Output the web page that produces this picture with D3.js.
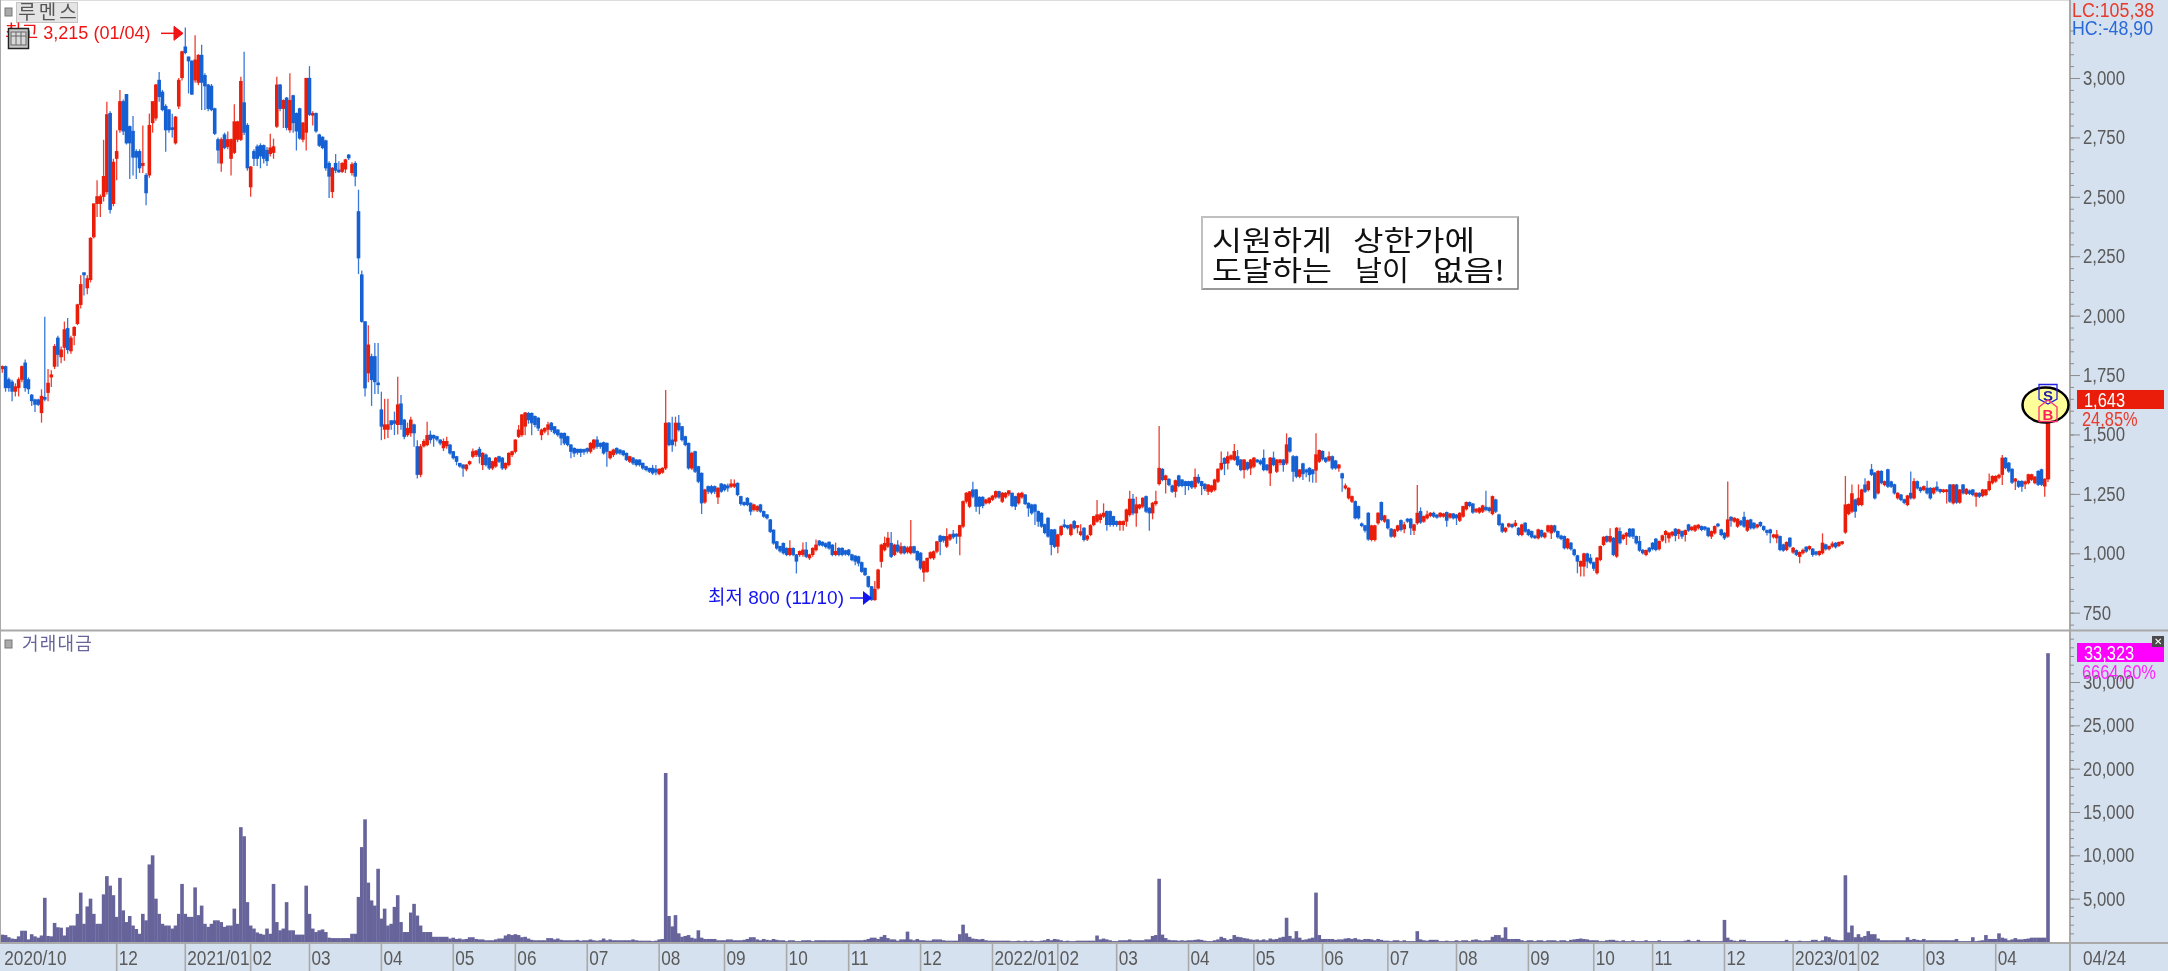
<!DOCTYPE html>
<html><head><meta charset="utf-8">
<script src="https://cdnjs.cloudflare.com/ajax/libs/d3/7.8.5/d3.min.js"></script>
<style>html,body{margin:0;padding:0;background:#fff;overflow:hidden}svg{display:block;filter:blur(.35px)}text{font-family:"Liberation Sans","Noto Sans CJK KR",sans-serif}</style>
</head><body><svg id="c" width="2168" height="971"></svg>
<script>
const opens=[1775,1785,1730,1720,1680,1695,1730,1800,1730,1665,
1645,1645,1590,1655,1675,1740,1785,1905,1825,1865,
1945,1850,1915,1965,2045,2180,2115,2150,2330,2470,
2470,2500,2520,2850,2470,2660,2780,2900,2930,2795,
2775,2690,2690,2630,2590,2590,2810,2830,2990,2940,
2880,2865,2790,2725,2880,3000,3130,3088,3070,2990,
2980,3095,3010,2970,2965,2870,2740,2640,2760,2710,
2660,2685,2740,2740,2895,2800,2540,2690,2710,2715,
2715,2695,2680,2685,2795,2970,2870,2915,2780,2925,
2850,2870,2740,2770,2998,2845,2850,2760,2750,2735,
2640,2520,2640,2612,2605,2615,2675,2600,2640,
2437,2171,1974,1757,1827,1827,1716,1603,1520,1520,1557,1557,1540,1628,1560,1497,1505,1540,1448,1330,1450,1455,1497,1495,1490,1476,1442,1450,1455,1427,1406,1378,1371,1353,1375,1406,1413,1437,1371,1413,1400,1357,1365,1406,1400,1357,1371,1413,1427,1490,1497,1533,1588,1588,1575,1568,1497,1512,1520,1547,1532,1518,1504,1504,1490,1455,1441,1437,1437,1436,1440,1427,1441,1476,1462,1465,1462,1400,1413,1441,1434,1430,1420,1385,1400,1392,1392,1378,1364,1357,1357,1353,1333,1339,1357,1547,1476,1470,1547,1532,1490,1462,1357,1427,1364,
1336,1214,1280,1280,1280,1235,1291,1287,1283,1280,1280,1294,1238,1213,1231,1210,1182,1180,1203,1175,1161,1140,1097,1048,1028,1041,1020,993,1020,993,993,993,1013,979,993,1013,1051,1046,1040,1046,1034,993,1020,1020,1010,1013,993,988,985,960,936,901,859,803,852,964,1013,1028,1041,993,1034,1000,1027,1004,1000,1027,1007,1000,919,922,979,979,1007,1072,1070,1028,1058,1080,1080,1070,1112,1217,1196,1266,1266,1235,1235,1210,1212,1225,1235,1259,1217,1235,1248,1252,1238,1210,1235,1245,1210,1203,1203,1175,1168,1120,1147,1098,1098,1028,1077,1119,1116,1077,1133,1112,1077,1105,1058,1077,1119,1133,
1140,1154,1175,1175,1154,1133,1119,1119,1133,1161,1227,1168,1189,1196,1238,1189,1168,1207,1291,1353,1308,1311,1283,1259,1325,1308,1301,1301,1301,1278,1319,1301,1290,1259,1259,1266,1301,1353,1399,1378,1395,1393,1406,1392,1350,1381,1357,1364,1392,1388,1399,1371,1336,1400,1343,1380,1392,1378,1484,1406,1406,1322,1376,1350,1357,1350,1348,1385,1428,1400,1390,1406,1388,1357,1334,1273,1231,1217,1217,1196,1123,1115,1168,1056,1056,1126,1213,1133,1140,1101,1070,1095,1137,1101,1143,1143,1095,1126,1175,1133,1147,1157,1168,1160,1154,1154,1171,1150,1165,1161,1137,1154,1185,1213,1207,1175,1171,1175,1193,1190,1165,1224,1161,1123,1091,1112,1120,1115,1105,1077,1126,1098,1091,1072,1063,1095,1067,1091,
1084,1115,1091,1072,1070,1021,1042,1014,989,944,944,997,979,960,916,972,1035,1070,1049,1063,986,1091,1060,1070,1101,1101,1070,1049,1012,993,1021,1042,1059,1017,1053,1077,1063,1075,1101,1081,1091,1077,1119,1098,1095,1105,1112,1110,1105,1070,1084,1122,1098,1084,1070,1151,1133,1112,1135,1151,1095,1140,1126,1109,1129,1112,1095,1098,1067,1063,1070,1035,1014,1063,1003,1011,985,1000,1025,1017,1017,1005,993,1000,1035,1017,1028,1042,1031,1040,1087,1165,1175,1224,1203,1203,1287,1266,1351,1337,1252,1344,1287,1351,1300,1288,1231,1245,1225,1203,1252,1231,1301,1275,1266,1273,1273,1252,1278,1268,1259,1259,1287,1210,1287,1213,1287,1250,1262,1266,1238,1252,1241,1245,1266,1295,1302,1318,1330,1400,1379,1353,1302,1302,1302,1290,1295,1309,1295,1344,1351,1281,1311];
const closes=[1785,1695,1695,1680,1700,1730,1785,1695,1690,1640,
1625,1625,1660,1650,1715,1750,1870,1835,1855,1940,
1855,1905,1950,2045,2130,2170,2155,2325,2470,2500,
2500,2585,2845,2445,2645,2690,2900,2775,2725,2725,
2665,2665,2620,2640,2515,2800,2900,2970,2920,2865,
2780,2780,2785,2835,2990,3110,3105,3070,2930,3075,
3095,2980,2965,2870,2865,2765,2695,2740,2705,2740,
2740,2815,2815,2985,2770,2620,2625,2660,2660,2670,
2660,2650,2705,2710,2970,2870,2905,2790,2905,2810,
2775,2745,2810,2998,2845,2850,2775,2715,2705,2620,
2585,2620,2610,2605,2640,2655,2662,2635,2585,
2241,1974,1694,1876,1729,1720,1712,1533,1540,1540,1540,1545,1624,1540,1490,1525,1560,1505,1330,1448,1470,1495,1476,1483,1478,1462,1470,1470,1420,1400,1385,1365,1357,1371,1385,1427,1430,1406,1420,1371,1357,1385,1400,1385,1357,1378,1420,1427,1476,1518,1582,1590,1560,1547,1540,1525,1518,1525,1540,1518,1505,1497,1483,1462,1455,1427,1420,1423,1423,1425,1428,1462,1476,1448,1448,1420,1427,1427,1434,1420,1420,1413,1392,1406,1378,1371,1371,1357,1350,1343,1336,1340,1353,1357,1547,1455,1455,1547,1518,1476,1455,1357,1420,1343,1301,
1210,1266,1259,1255,1259,1273,1259,1266,1273,1291,1291,1245,1207,1203,1203,1175,1203,1196,1175,1154,1147,1090,1041,1020,1008,1000,993,1020,993,965,1007,1013,985,993,1020,1034,1034,1032,1026,1020,993,1007,993,993,995,993,971,965,957,922,908,859,803,848,929,1034,1041,1063,985,1034,1007,1027,1000,1022,1027,1002,971,936,964,978,1002,1006,1048,1048,1053,1070,1077,1067,1070,1116,1217,1252,1258,1238,1196,1196,1199,1224,1231,1240,1259,1235,1252,1252,1262,1199,1196,1250,1252,1207,1189,1168,1175,1133,1112,1085,1070,1035,1027,1077,1112,1112,1105,1119,1105,1116,1090,1056,1072,1116,1154,1161,
1161,1168,1119,1119,1119,1119,1133,1133,1182,1227,1168,1203,1203,1231,1175,1168,1210,1217,1357,1308,1325,1287,1259,1305,1283,1283,1283,1283,1277,1319,1297,1283,1270,1287,1283,1308,1353,1378,1376,1406,1410,1428,1371,1350,1392,1353,1392,1400,1385,1375,1350,1350,1400,1371,1392,1392,1371,1456,1428,1343,1322,1350,1333,1340,1329,1333,1414,1432,1395,1385,1406,1357,1357,1371,1315,1283,1273,1238,1147,1147,1115,1095,1058,1115,1115,1168,1140,1157,1105,1070,1098,1115,1098,1119,1133,1105,1119,1168,1129,1154,1161,1168,1154,1150,1168,1165,1137,1165,1147,1147,1168,1196,1213,1199,1171,1185,1189,1199,1182,1178,1238,1175,1119,1091,1105,1123,1110,1126,1077,1119,1091,1077,1067,1066,1098,1070,1084,1115,
1115,1091,1067,1060,1021,1059,1017,993,965,965,997,965,958,935,979,1028,1067,1049,1070,993,1105,1042,1075,1084,1070,1070,1042,1011,1000,1011,1007,1017,1014,1049,1073,1091,1084,1088,1073,1098,1070,1095,1095,1109,1115,1118,1098,1100,1073,1091,1112,1115,1077,1063,1140,1137,1147,1143,1120,1112,1137,1105,1105,1119,1115,1098,1086,1084,1077,1077,1014,1011,1045,1028,1021,993,1003,1012,1007,1028,993,995,1007,1042,1017,1028,1039,1025,1045,1048,1203,1205,1250,1175,1231,1266,1259,1301,1330,1231,1344,1295,1301,1280,1280,1252,1252,1224,1212,1241,1231,1301,1273,1262,1280,1252,1231,1273,1264,1258,1266,1266,1217,1287,1213,1266,1252,1269,1250,1245,1252,1238,1266,1266,1301,1323,1323,1328,1400,1358,1344,1297,1312,1280,1280,1300,1330,1330,1320,1288,1288,1311,1643];
const highs=[1790,1790,1740,1730,1715,1740,1790,1815,1740,1670,
1650,1650,1690,1995,1775,1770,1880,1915,1870,1975,
1990,1915,1955,2050,2170,2180,2170,2330,2470,2570,
2510,2740,2900,2860,2660,2780,2950,2910,2930,2800,
2840,2700,2700,2800,2600,2850,2900,2975,3025,2950,
2890,2870,2850,2840,3000,3115,3213,3090,3075,3180,
3100,3140,3020,2975,2975,2875,2750,2750,2770,2775,
2745,2890,2820,3005,3110,2810,2630,2700,2720,2725,
2720,2710,2765,2745,3005,2975,2910,2920,3020,2930,
2855,2875,2815,3000,3050,2860,2855,2765,2755,2740,
2650,2625,2680,2650,2645,2660,2680,2645,2650,
2530,2190,1975,1960,1840,1885,1885,1680,1650,1650,1560,1596,1743,1666,1565,1550,1575,1545,1476,1460,1480,1553,1516,1500,1495,1480,1483,1490,1460,1430,1410,1380,1375,1375,1390,1441,1435,1448,1425,1420,1405,1390,1405,1410,1405,1382,1425,1432,1480,1540,1585,1595,1595,1592,1580,1572,1525,1530,1553,1552,1535,1522,1508,1508,1495,1460,1445,1440,1440,1440,1445,1468,1480,1492,1466,1470,1466,1432,1440,1445,1438,1434,1424,1410,1405,1396,1395,1382,1368,1360,1372,1372,1358,1362,1687,1552,1575,1575,1582,1536,1495,1466,1427,1432,1368,
1340,1272,1285,1288,1285,1278,1296,1292,1294,1312,1310,1298,1242,1218,1236,1214,1208,1202,1208,1180,1165,1144,1100,1052,1032,1045,1025,1055,1024,997,1012,1045,1048,998,1025,1058,1056,1050,1045,1050,1038,1045,1025,1025,1015,1018,998,992,990,965,940,905,862,883,935,1040,1070,1090,1090,1040,1055,1045,1032,1030,1140,1032,1012,1005,970,982,1008,1012,1052,1078,1074,1105,1082,1098,1084,1120,1222,1258,1262,1301,1270,1240,1240,1230,1236,1246,1264,1263,1258,1258,1266,1256,1242,1256,1259,1250,1214,1208,1208,1180,1172,1125,1152,1102,1103,1082,1118,1143,1120,1124,1140,1118,1122,1110,1078,1122,1158,1224,
1168,1210,1180,1180,1158,1138,1138,1138,1188,1263,1250,1238,1208,1236,1243,1194,1216,1263,1536,1358,1330,1316,1288,1310,1330,1312,1305,1305,1306,1357,1333,1305,1295,1292,1288,1314,1358,1428,1404,1428,1416,1460,1435,1397,1397,1386,1397,1405,1397,1395,1437,1376,1405,1428,1397,1397,1397,1505,1489,1414,1411,1355,1381,1356,1362,1355,1505,1437,1433,1405,1428,1411,1393,1376,1339,1294,1278,1243,1222,1201,1130,1120,1173,1120,1120,1173,1218,1162,1145,1106,1103,1120,1142,1133,1148,1148,1124,1287,1193,1159,1179,1173,1175,1165,1173,1170,1176,1170,1170,1165,1173,1200,1218,1218,1212,1190,1194,1204,1263,1196,1243,1229,1166,1128,1110,1128,1125,1140,1110,1124,1131,1103,1096,1078,1103,1100,1089,1120,
1120,1120,1096,1078,1075,1064,1047,1019,994,970,1002,1002,997,965,984,1033,1072,1075,1105,1068,1110,1109,1082,1089,1106,1106,1075,1073,1018,1016,1026,1047,1064,1054,1078,1098,1089,1094,1106,1103,1096,1100,1124,1114,1120,1122,1117,1115,1110,1096,1117,1127,1103,1089,1302,1156,1152,1148,1140,1175,1142,1145,1131,1124,1134,1117,1100,1103,1082,1098,1075,1040,1050,1068,1026,1016,1008,1020,1030,1033,1022,1010,1012,1084,1040,1033,1050,1047,1050,1052,1325,1210,1289,1229,1290,1272,1316,1306,1376,1342,1349,1349,1306,1356,1305,1293,1257,1250,1230,1246,1344,1316,1306,1280,1285,1305,1278,1278,1302,1272,1271,1271,1292,1292,1292,1271,1292,1274,1268,1271,1257,1257,1271,1271,1336,1328,1328,1335,1414,1405,1384,1358,1317,1307,1307,1306,1335,1335,1325,1349,1356,1316,1643];
const lows=[1760,1680,1680,1640,1660,1660,1720,1680,1670,1620,
1595,1620,1550,1640,1640,1700,1775,1785,1800,1810,
1840,1840,1875,1960,2030,2085,2090,2140,2325,2415,
2415,2480,2510,2430,2460,2570,2770,2760,2720,2575,
2590,2575,2600,2600,2465,2580,2770,2820,2900,2860,
2690,2770,2750,2720,2870,2990,3100,2935,2930,2980,
2970,2865,2865,2860,2860,2760,2640,2605,2700,2700,
2590,2680,2730,2735,2760,2610,2500,2630,2630,2620,
2640,2630,2670,2660,2790,2860,2790,2780,2770,2770,
2695,2740,2730,2695,2840,2800,2770,2710,2700,2610,
2495,2495,2600,2600,2600,2600,2655,2590,2545,
2175,1970,1660,1720,1620,1670,1670,1476,1480,1485,1520,1497,1500,1520,1480,1490,1490,1448,1315,1320,1445,1450,1462,1448,1470,1455,1430,1440,1415,1395,1370,1360,1322,1345,1370,1400,1405,1378,1350,1365,1350,1350,1360,1380,1350,1350,1365,1405,1420,1485,1490,1497,1545,1497,1530,1515,1476,1505,1497,1510,1500,1490,1455,1455,1450,1400,1405,1415,1405,1415,1420,1420,1435,1440,1440,1415,1364,1395,1405,1415,1415,1408,1388,1380,1372,1365,1365,1352,1345,1338,1330,1328,1328,1335,1350,1450,1427,1450,1512,1470,1450,1352,1350,1338,1295,
1165,1208,1250,1248,1250,1207,1255,1260,1259,1275,1275,1240,1200,1198,1198,1160,1176,1174,1170,1150,1142,1085,1036,1015,1003,995,988,988,988,915,985,985,980,972,985,1008,1030,1028,1020,1015,988,988,988,988,990,988,966,950,945,918,904,855,800,800,848,940,1008,1022,980,988,1002,995,995,998,995,998,966,930,880,918,975,972,1000,992,1045,1022,1052,1060,1040,992,1105,1210,1190,1232,1175,1164,1190,1205,1206,1220,1230,1230,1212,1230,1240,1194,1182,1205,1230,1203,1154,1162,1119,1112,1107,1080,1065,992,1022,1000,1072,1106,1100,1072,1100,1084,1072,1050,1052,1072,1114,1128,
1126,1148,1095,1112,1112,1112,1095,1095,1112,1155,1160,1112,1184,1190,1170,1095,1143,1200,1285,1303,1252,1282,1254,1235,1278,1278,1245,1265,1270,1272,1292,1245,1262,1245,1254,1260,1296,1348,1329,1353,1390,1388,1366,1345,1315,1348,1329,1358,1380,1370,1345,1345,1283,1366,1338,1370,1343,1372,1423,1301,1316,1316,1308,1320,1301,1297,1297,1380,1390,1380,1385,1352,1352,1343,1259,1268,1226,1212,1142,1142,1110,1088,1053,1050,1050,1120,1135,1128,1100,1065,1065,1090,1092,1084,1128,1077,1077,1120,1124,1128,1142,1152,1149,1145,1150,1150,1112,1145,1142,1119,1132,1150,1180,1194,1166,1170,1166,1170,1177,1172,1160,1170,1114,1085,1086,1107,1105,1110,1072,1072,1086,1072,1062,1060,1058,1065,1062,1086,
1060,1086,1062,1055,1016,1016,1012,988,916,902,902,937,953,925,911,967,1030,1044,1044,988,981,1037,1055,1035,1065,1060,1037,1006,995,988,1002,1012,1009,1012,1048,1042,1045,1070,1050,1060,1060,1050,1090,1093,1090,1100,1093,1095,1068,1060,1079,1110,1072,1056,1065,1112,1128,1107,1115,1107,1090,1100,1100,1104,1110,1093,1075,1042,1062,1042,1009,1006,1009,1023,998,988,958,995,1002,1012,985,990,988,995,1012,1012,1023,1020,1026,1035,1082,1160,1170,1150,1198,1198,1254,1260,1325,1226,1247,1290,1282,1275,1275,1247,1226,1219,1206,1198,1226,1226,1268,1255,1261,1247,1226,1247,1259,1252,1254,1210,1212,1205,1208,1208,1247,1245,1245,1240,1196,1233,1236,1240,1261,1290,1297,1312,1287,1353,1339,1292,1266,1275,1259,1270,1290,1304,1290,1283,1283,1238,1300];
const turnover=[850,800,550,400,350,650,1300,1300,300,900,
650,500,750,5100,700,650,2200,1700,1650,750,
1700,1900,1900,3250,5700,2100,4100,5000,3250,2100,
2100,5500,7600,6500,5400,2900,7400,3650,2300,3000,
1900,1500,950,3250,2500,8950,10000,5000,3250,2100,
1900,1900,1550,1900,3250,6700,3250,2900,2900,6300,
3100,4200,2100,1750,2100,2500,2500,2300,1750,1900,
1900,3850,2100,13250,12200,4600,1900,1550,1100,950,
850,1550,950,6700,2300,1350,1550,4600,1350,1350,
850,850,850,6500,3250,1550,1150,1350,1450,1150,
500,450,450,450,450,450,450,950,950,5200,
10950,14150,6850,4800,4200,8450,2700,3850,1900,2100,
4050,5400,2300,1150,1150,3400,4400,3050,1900,1150,
1150,1150,600,600,600,600,600,400,500,350,
400,300,350,550,550,350,300,300,200,200,
200,300,400,400,750,900,800,900,800,550,
600,400,250,200,200,200,200,450,450,300,
400,250,200,200,200,200,250,150,200,200,
300,200,150,200,400,200,300,200,200,200,
200,200,200,300,200,150,150,150,150,100,
150,300,350,19500,3000,1800,3100,1000,600,700,
800,500,400,1350,500,350,350,350,350,200,
200,200,300,300,200,200,200,250,350,550,
550,300,200,350,250,200,350,250,200,200,
100,200,200,100,100,200,200,200,100,200,
200,200,200,200,200,200,200,200,200,200,
200,200,200,200,250,350,500,500,350,600,
800,450,300,300,150,300,300,1200,300,200,
350,200,200,150,150,300,300,300,200,150,
150,150,150,900,2000,1000,600,400,350,300,
350,200,150,150,150,150,150,150,150,100,
100,150,100,150,100,150,100,100,150,200,
350,200,350,300,200,100,150,100,100,150,
150,150,150,150,150,750,300,400,300,200,
100,100,200,200,200,300,200,200,200,200,
300,300,700,800,7300,850,450,250,200,200,
150,200,150,200,200,250,300,250,150,100,
100,200,300,600,450,250,350,800,600,550,
450,400,300,250,300,200,300,200,400,
300,350,500,600,2800,700,400,1250,500,250,
300,400,500,5700,800,350,350,350,350,250,
300,300,400,450,350,450,300,250,350,350,300,
200,350,250,150,150,100,200,200,100,200,
100,100,100,1250,300,200,150,250,250,250,
100,100,150,100,100,200,100,200,200,100,250,300,200,
150,200,200,600,800,800,500,1700,350,350,
350,350,200,100,200,200,100,200,200,100,
200,200,200,100,200,200,100,
250,300,350,400,350,300,200,200,200,100,
100,200,250,250,150,100,200,100,100,200,
100,100,100,200,100,100,100,200,100,100,
100,100,100,100,100,150,250,100,100,250,100,
100,100,100,100,100,100,2550,500,250,150,
100,250,250,100,100,100,100,100,100,100,
100,100,100,100,100,250,100,100,100,150,
100,100,100,250,250,100,200,650,550,
300,250,200,200,
7700,1100,1900,550,900,550,700,1250,900,900,
400,200,200,200,200,200,200,200,200,550,
250,350,250,200,350,200,200,200,200,200,
200,200,200,200,350,100,100,100,100,550,
100,150,200,800,350,350,350,1000,500,400,
200,300,450,300,300,350,400,500,500,500,
500,500,33323];
const priceTicks=[3000,2750,2500,2250,2000,1750,1500,1250,1000,750];
const priceMinor=d3.range(700,3250,50);
const volTicks=[30000,25000,20000,15000,10000,5000];
const volMinor=d3.range(0,37000,1000);
const monthLabels=["2020/10","12","2021/01","02","03","04","05","06","07","08","09","10","11","12","2022/01","02","03","04","05","06","07","08","09","10","11","12","2023/01","02","03","04"];
const monthIdx=[0,35,56,76,94,116,138,157,179,201,221,240,259,281,303,323,341,363,383,404,424,445,467,487,505,527,548,568,588,610];

const W=2168,H=971,PR=2070,PB=630.5,VB=942;
const RED="#ea1c0a",BLUE="#1560d2",VOL="#66649a",PANEL="#d6e1ef",GREY="#a9a9a9",TXT="#5a5a5a";
const n=closes.length;
const svg=d3.select("#c");
const x=d3.scaleLinear().domain([0,626]).range([2.3,2048]);
const yP=d3.scaleLinear().domain([750,3000]).range([612.7,78]);
const yV=d3.scaleLinear().domain([0,30000]).range([VB,682]);
// squeeze wide glyphs to the narrow face of the original
const squeeze=(sel,k)=>sel.each(function(){const l=this.getComputedTextLength();d3.select(this).attr("textLength",l*k).attr("lengthAdjust","spacingAndGlyphs");});

svg.append("rect").attr("width",W).attr("height",H).attr("fill","#fff");
svg.append("rect").attr("x",PR).attr("y",0).attr("width",W-PR).attr("height",H).attr("fill",PANEL);
svg.append("rect").attr("x",0).attr("y",VB+1).attr("width",W).attr("height",H-VB-1).attr("fill",PANEL);

// volume bars
svg.append("g").selectAll("rect").data(turnover).join("rect")
 .attr("x",(d,i)=>x(i)-1.8).attr("width",3.6)
 .attr("y",d=>yV(d)).attr("height",d=>VB-yV(d)).attr("fill",VOL);

// candles
const cg=svg.append("g");
const idx=d3.range(n);
const col=i=>closes[i]>=opens[i]?RED:BLUE;
cg.selectAll("line").data(idx).join("line")
 .attr("x1",i=>x(i)).attr("x2",i=>x(i)).attr("y1",i=>yP(highs[i])).attr("y2",i=>yP(lows[i]))
 .attr("stroke",col).attr("stroke-width",1.3).attr("stroke-opacity",.85);
cg.selectAll("rect").data(idx).join("rect")
 .attr("x",i=>x(i)-(i===n-1?2.2:1.8)).attr("width",i=>i===n-1?4.4:3.6)
 .attr("y",i=>yP(Math.max(opens[i],closes[i]))-.6)
 .attr("height",i=>Math.max(2.6,Math.abs(yP(opens[i])-yP(closes[i]))+.6))
 .attr("fill",col);

// frame
const hline=(y,w)=>svg.append("line").attr("x1",0).attr("x2",W).attr("y1",y).attr("y2",y).attr("stroke",GREY).attr("stroke-width",w);
svg.append("line").attr("x1",0).attr("x2",PR).attr("y1",.5).attr("y2",.5).attr("stroke","#dcdcdc");
svg.append("line").attr("x1",.5).attr("x2",.5).attr("y1",0).attr("y2",VB).attr("stroke",GREY);
hline(PB,2);hline(VB+1,2);
svg.append("line").attr("x1",PR).attr("x2",PR).attr("y1",0).attr("y2",H).attr("stroke",GREY).attr("stroke-width",2);

// axes
function style(g,fs){g.select(".domain").remove();g.selectAll("line").attr("stroke","#8c8c8c");
 g.selectAll("text").attr("fill",TXT).attr("font-size",fs);}
const minorP=svg.append("g").attr("transform",`translate(${PR},0)`).call(d3.axisRight(yP).tickValues(priceMinor.filter(v=>yP(v)>2&&yP(v)<PB-2)).tickSize(4).tickFormat(""));style(minorP,20);
const majorP=svg.append("g").attr("transform",`translate(${PR},0)`).call(d3.axisRight(yP).tickValues(priceTicks).tickSize(10).tickPadding(3).tickFormat(d3.format(",")));style(majorP,20);squeeze(majorP.selectAll("text"),.84);
const minorV=svg.append("g").attr("transform",`translate(${PR},0)`).call(d3.axisRight(yV).tickValues(volMinor.filter(v=>yV(v)>634&&yV(v)<VB-1)).tickSize(4).tickFormat(""));style(minorV,20);
const majorV=svg.append("g").attr("transform",`translate(${PR},0)`).call(d3.axisRight(yV).tickValues(volTicks).tickSize(10).tickPadding(3).tickFormat(d3.format(",")));style(majorV,20);squeeze(majorV.selectAll("text"),.84);

// months
const mg=svg.append("g");
monthIdx.forEach((m,k)=>{
 const px=x(m);
 if(k>0)mg.append("line").attr("x1",px).attr("x2",px).attr("y1",VB+1).attr("y2",H).attr("stroke",GREY).attr("stroke-width",1.6);
 mg.append("text").attr("x",px+2).attr("y",965).attr("font-size",20).attr("fill",TXT).text(monthLabels[k]);
});
squeeze(mg.selectAll("text"),.86);
const lastDate=svg.append("text").attr("x",2083).attr("y",965).attr("font-size",20).attr("fill",TXT).text("04/24");squeeze(lastDate,.86);
svg.append("line").attr("x1",PR).attr("x2",PR).attr("y1",VB).attr("y2",H).attr("stroke",GREY).attr("stroke-width",2);

// header widgets
svg.append("rect").attr("x",5).attr("y",8).attr("width",7).attr("height",8).attr("fill","#aaa").attr("stroke","#777");
svg.append("rect").attr("x",16.5).attr("y",2.5).attr("width",61).attr("height",20).attr("fill","#e4e4e4").attr("stroke","#c4c4c4");
svg.append("text").attr("x",49).attr("y",19).attr("text-anchor","middle").attr("font-size",19).attr("fill","#555").attr("letter-spacing",3).text("루멘스");
const hiLabel=svg.append("text").attr("x",5).attr("y",39).attr("font-size",19).attr("fill","#f01414").text("최고 3,215 (01/04)");squeeze(hiLabel,.95);
const hiArrow=svg.append("g").attr("fill","#f01414").attr("stroke","#f01414");
hiArrow.append("line").attr("x1",161).attr("x2",178).attr("y1",yP(3188)).attr("y2",yP(3188)).attr("stroke-width",1.5);
hiArrow.append("path").attr("d",d3.line()([[174,yP(3188)-7],[183,yP(3188)],[174,yP(3188)+7]])+"Z");
svg.append("rect").attr("x",8.5).attr("y",28.5).attr("width",20).attr("height",20).attr("fill","#c8c8c8").attr("stroke","#222").attr("stroke-width",1.5);
[[11,32,15,13]].forEach(([a,b,c,d])=>{svg.append("rect").attr("x",a).attr("y",b).attr("width",c).attr("height",d).attr("fill","#d8d8d8").attr("stroke","#666");
 [16,21].forEach(v=>svg.append("line").attr("x1",v).attr("x2",v).attr("y1",b).attr("y2",b+d).attr("stroke","#666"));
 svg.append("line").attr("x1",a).attr("x2",a+c).attr("y1",36).attr("y2",36).attr("stroke","#666");});
svg.append("text").attr("x",708).attr("y",604).attr("font-size",19).attr("fill","#1414f0").text("최저 800 (11/10)");
svg.append("line").attr("x1",850).attr("x2",866).attr("y1",598).attr("y2",598).attr("stroke","#1414f0").attr("stroke-width",1.5);
svg.append("path").attr("d","M863,591L872,598L863,605Z").attr("fill","#1414f0");

// note box
svg.append("rect").attr("x",1202).attr("y",217).attr("width",316).attr("height",72).attr("fill","#fff").attr("stroke","#777").attr("stroke-width",1.5);
svg.append("path").attr("d","M1202,289V217H1518").attr("fill","none").attr("stroke","#ccc").attr("stroke-width",1.5);
const noteWords=["시원하게","상한가에","도달하는","날이","없음!"];
const noteSpan=[120,122,120,54,72];
const noteAt=[[1212,251],[1353,251],[1212,281],[1355,281],[1433,281]];
noteWords.forEach((w,k)=>svg.append("text").attr("x",noteAt[k][0]).attr("y",noteAt[k][1]).attr("font-size",28).attr("fill","#111").attr("textLength",noteSpan[k]).attr("lengthAdjust","spacingAndGlyphs").attr("style","font-family:'Noto Sans CJK KR',sans-serif").text(w));

// corner readouts
const corner=svg.append("g");
corner.append("text").attr("x",2072).attr("y",17).attr("font-size",20).attr("fill","#e83a2a").text("LC:105,38");
corner.append("text").attr("x",2072).attr("y",35).attr("font-size",20).attr("fill","#2a6ad8").text("HC:-48,90");
squeeze(corner.selectAll("text"),.89);

// last price tag
const tags=svg.append("g");
tags.append("rect").attr("x",2077).attr("y",390).attr("width",87).attr("height",19).attr("fill",RED);
tags.append("text").attr("x",2084).attr("y",407).attr("font-size",20).attr("fill","#fff").text("1,643");
tags.append("text").attr("x",2082).attr("y",426).attr("font-size",20).attr("fill","#ea3a2a").text("24,85%");
tags.append("rect").attr("x",2077).attr("y",643).attr("width",87).attr("height",19).attr("fill","#ff00ff");
tags.append("text").attr("x",2084).attr("y",660).attr("font-size",20).attr("fill","#fff").text("33,323");
tags.append("text").attr("x",2082).attr("y",679).attr("font-size",20).attr("fill","#ff22ff").text("6664,60%");
squeeze(tags.selectAll("text"),.82);
svg.append("rect").attr("x",2152).attr("y",636).attr("width",12).attr("height",11).attr("fill","#4a4a4a");
svg.append("text").attr("x",2158).attr("y",645).attr("text-anchor","middle").attr("font-size",10).attr("fill","#fff").text("✕");

// signal marker
const cx=x(626);
svg.append("ellipse").attr("cx",cx-2.5).attr("cy",405).attr("rx",23).attr("ry",17.5).attr("fill","#ffff99").attr("stroke","#000").attr("stroke-width",2.5);
svg.append("path").attr("d",`M${cx-9},384.5H${cx+9}V399L${cx},404L${cx-9},399Z`).attr("fill","none").attr("stroke","#2020e0").attr("stroke-width",1.3);
svg.append("text").attr("x",cx).attr("y",401).attr("text-anchor","middle").attr("font-size",15).attr("font-weight","bold").attr("fill","#2020a0").text("S");
svg.append("path").attr("d",`M${cx-9},421.5H${cx+9}V407L${cx},400L${cx-9},407Z`).attr("fill","none").attr("stroke","#ff3070").attr("stroke-width",1.3);
svg.append("text").attr("x",cx).attr("y",420).attr("text-anchor","middle").attr("font-size",15).attr("font-weight","bold").attr("fill","#ff2060").text("B");

// volume title
svg.append("rect").attr("x",5).attr("y",640).attr("width",7).attr("height",8).attr("fill","#aaa").attr("stroke","#777");
svg.append("text").attr("x",22).attr("y",650).attr("font-size",18).attr("fill",VOL).attr("letter-spacing",1.2).text("거래대금");
</script></body></html>
